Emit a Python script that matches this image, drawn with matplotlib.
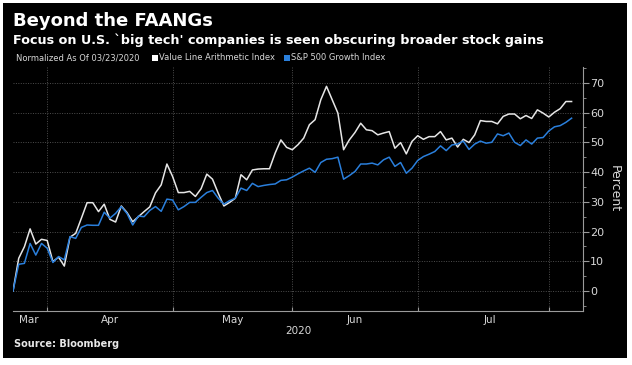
import matplotlib
matplotlib.use("Agg")
from matplotlib import pyplot as plt
from matplotlib.patches import Rectangle
import numpy as np

# weekday index since 03/23/2020 (0 = Mar 23)
value_line = [0, 11.0, 14.9, 20.9, 15.8, 17.4, 17.0, 9.9, 11.4, 8.4,
              18.1, 19.4, 24.5, 29.7, 29.7, 26.7, 29.2, 24.1, 23.2, 28.6,
              26.4, 23.3, 25.0, 26.7, 28.3, 33.0, 35.7, 42.7, 38.5, 33.1,
              33.1, 33.5, 31.8, 34.4, 39.3, 37.6, 32.9, 28.6, 29.8, 31.2,
              39.1, 37.4, 40.7, 41.0, 41.1, 41.1, 46.4, 50.8, 48.3, 47.5,
              49.2, 51.4, 55.9, 57.6, 64.3, 68.8, 64.3, 59.8, 47.5, 50.8,
              53.3, 56.4, 54.2, 53.9, 52.5, 53.1, 53.6, 48.0, 49.9, 46.1,
              50.3, 52.2, 51.0, 51.9, 51.9, 53.6, 50.8, 51.4, 48.4, 51.0,
              49.9, 52.5, 57.3, 57.0, 57.0, 56.2, 58.7, 59.5, 59.5, 57.9,
              59.0, 58.0, 60.9, 59.8, 58.5, 60.1, 61.3, 63.7, 63.7]
sp500_growth = [0, 9.0, 9.3, 16.0, 12.1, 16.0, 14.4, 9.6, 11.6, 10.5,
                18.3, 17.7, 21.4, 22.2, 22.1, 22.1, 26.5, 24.5, 26.1, 28.4,
                26.1, 22.2, 25.2, 25.0, 27.1, 28.4, 26.8, 30.9, 30.6, 27.3,
                28.4, 29.8, 29.8, 31.5, 33.1, 33.8, 31.2, 29.2, 30.4, 31.2,
                34.6, 33.8, 36.2, 35.1, 35.5, 35.8, 36.0, 37.2, 37.4, 38.3,
                39.4, 40.4, 41.3, 39.9, 43.2, 44.3, 44.5, 45.0, 37.6, 38.8,
                40.2, 42.7, 42.7, 43.0, 42.4, 44.1, 45.0, 41.9, 43.2, 39.6,
                41.3, 43.9, 45.2, 46.0, 46.9, 48.8, 47.2, 49.1, 49.4, 50.4,
                47.6, 49.4, 50.4, 49.7, 50.0, 52.8, 52.2, 53.1, 50.0, 48.9,
                50.8, 49.4, 51.4, 51.6, 53.8, 55.2, 55.6, 56.7, 58.1]
month_labels = ["Mar", "Apr", "May", "Jun", "Jul"]
month_label_pos = [2.8, 17, 38.5, 60, 83.7]
month_edges = [6, 28, 49, 71, 94]   # last weekday of each month
y_ticks = [0, 10, 20, 30, 40, 50, 60, 70]

W, H = 632, 365
fig = plt.figure(figsize=(W / 100, H / 100), dpi=100, facecolor="white")
fig.patches.append(Rectangle((3 / W, 7 / H), 624 / W, 355 / H, transform=fig.transFigure,
                             facecolor="black", edgecolor="none", zorder=-10))


def fx(px):
    return px / W


def fy(py):
    return 1 - py / H


ax = fig.add_axes([fx(13), fy(311), fx(583) - fx(13), fy(67) - fy(311)])
ax.set_facecolor("black")
x = np.arange(len(value_line))
ax.plot(x, value_line, color="#e6e6e6", lw=1.1, zorder=3)
ax.plot(x, sp500_growth, color="#2a7fdc", lw=1.1, zorder=4)
ax.set_xlim(0, 100)
ax.set_ylim(-6.7, 75.3)

for s in ["left", "top"]:
    ax.spines[s].set_visible(False)
for s in ["right", "bottom"]:
    ax.spines[s].set_color("#9a9a9a")
    ax.spines[s].set_linewidth(0.8)

ax.yaxis.tick_right()
ax.yaxis.set_label_position("right")
ax.set_yticks(y_ticks)
ax.set_yticks(np.arange(-5, 76, 5), minor=True)
ax.tick_params(axis="y", which="both", colors="#9a9a9a", labelcolor="#d8d8d8",
               labelsize=8, direction="out", pad=1)
ax.tick_params(axis="y", which="major", length=4)
ax.tick_params(axis="y", which="minor", length=2)
ax.set_ylabel("Percent", color="#d8d8d8", fontsize=9, rotation=270, labelpad=12)

ax.set_xticks(month_edges)
ax.set_xticklabels([])
ax.set_xticks(month_label_pos, minor=True)
ax.set_xticklabels(month_labels, minor=True)
ax.tick_params(axis="x", which="major", colors="#9a9a9a", length=3, direction="in")
ax.tick_params(axis="x", which="minor", length=0, labelcolor="#d8d8d8", labelsize=7.5, pad=3)

ax.grid(True, axis="y", which="major", color="#4e4e4e", linestyle=(0, (1, 1.5)), lw=0.7)
ax.grid(True, axis="x", which="major", color="#4e4e4e", linestyle=(0, (1, 1.5)), lw=0.7)

fig.text(fx(298), fy(331), "2020", color="#d8d8d8", fontsize=7.5, ha="center", va="center")
fig.text(fx(14), fy(344), "Source: Bloomberg", color="#e8e8e8", fontsize=7, fontweight="bold",
         ha="left", va="center")

fig.text(fx(13), fy(21), "Beyond the FAANGs", color="white", fontsize=13, fontweight="bold",
         ha="left", va="center")
fig.text(fx(13), fy(40), "Focus on U.S. `big tech' companies is seen obscuring broader stock gains",
         color="white", fontsize=9.15, fontweight="bold", ha="left", va="center")

fig.text(fx(16), fy(58), "Normalized As Of 03/23/2020", color="#d8d8d8", fontsize=6,
         ha="left", va="center")
fig.patches.append(Rectangle((fx(152), fy(61)), fx(6), 6 / H, transform=fig.transFigure,
                             facecolor="white", edgecolor="none"))
fig.text(fx(159), fy(58), "Value Line Arithmetic Index", color="#d8d8d8", fontsize=6,
         ha="left", va="center")
fig.patches.append(Rectangle((fx(284), fy(61)), fx(6), 6 / H, transform=fig.transFigure,
                             facecolor="#2a7fdc", edgecolor="none"))
fig.text(fx(291), fy(58), "S&P 500 Growth Index", color="#d8d8d8", fontsize=6,
         ha="left", va="center")

fig.savefig("out.png", dpi=100, facecolor="white")
